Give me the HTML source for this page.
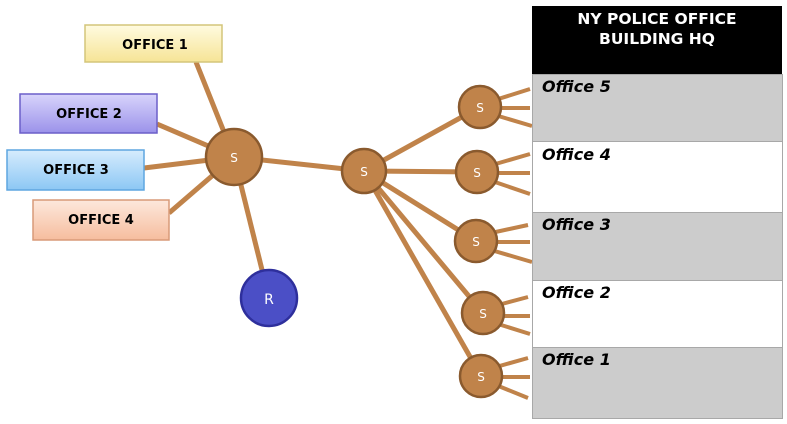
<!DOCTYPE html>
<html><head><style>body{margin:0;background:#fff}svg{display:block}</style></head><body>
<svg width="787" height="424" viewBox="0 0 787 424" xmlns="http://www.w3.org/2000/svg" font-family="DejaVu Sans, sans-serif">
<defs>
<linearGradient id="g1" x1="0" y1="0" x2="0" y2="1"><stop offset="0" stop-color="#fffbe0"/><stop offset="1" stop-color="#f6e496"/></linearGradient>
<linearGradient id="g2" x1="0" y1="0" x2="0" y2="1"><stop offset="0" stop-color="#d8d4fb"/><stop offset="1" stop-color="#9b92ea"/></linearGradient>
<linearGradient id="g3" x1="0" y1="0" x2="0" y2="1"><stop offset="0" stop-color="#d6ecfd"/><stop offset="1" stop-color="#8cc7f4"/></linearGradient>
<linearGradient id="g4" x1="0" y1="0" x2="0" y2="1"><stop offset="0" stop-color="#fde8dc"/><stop offset="1" stop-color="#f6bd9e"/></linearGradient>
</defs>
<g stroke="#c0834a" stroke-width="5" stroke-linecap="butt">
<line x1="196" y1="62" x2="234" y2="157"/>
<line x1="157" y1="124" x2="234" y2="157"/>
<line x1="144" y1="168" x2="234" y2="157"/>
<line x1="169" y1="213" x2="234" y2="157"/>
<line x1="234" y1="157" x2="269" y2="298"/>
<line x1="234" y1="157" x2="364" y2="171"/>
<line x1="364" y1="171" x2="480" y2="107"/>
<line x1="364" y1="171" x2="477" y2="172"/>
<line x1="364" y1="171" x2="476" y2="241"/>
<line x1="364" y1="171" x2="483" y2="313"/>
<line x1="364" y1="171" x2="481" y2="376"/>
</g>
<g stroke="#c0834a" stroke-width="4">
<line x1="495" y1="100" x2="530" y2="89"/><line x1="495" y1="108" x2="530" y2="108"/><line x1="495" y1="115" x2="532" y2="126"/>
<line x1="492" y1="165" x2="530" y2="154"/><line x1="492" y1="173" x2="530" y2="173"/><line x1="492" y1="181" x2="530" y2="194"/>
<line x1="491" y1="233" x2="528" y2="225"/><line x1="491" y1="242" x2="530" y2="242"/><line x1="491" y1="250" x2="532" y2="262"/>
<line x1="498" y1="305" x2="528" y2="297"/><line x1="498" y1="316" x2="530" y2="316"/><line x1="498" y1="324" x2="530" y2="334"/>
<line x1="496" y1="367" x2="528" y2="358"/><line x1="496" y1="377" x2="530" y2="377"/><line x1="496" y1="385" x2="528" y2="398"/>
</g>
<g stroke-width="1.5" font-weight="bold" font-size="13" text-anchor="middle" fill="#000">
<rect x="85" y="25" width="137" height="37" fill="url(#g1)" stroke="#d4c57a"/><text x="155" y="49" stroke="none">OFFICE  1</text>
<rect x="20" y="94" width="137" height="39" fill="url(#g2)" stroke="#6b5fc9"/><text x="89" y="118" stroke="none">OFFICE  2</text>
<rect x="7" y="150" width="137" height="40" fill="url(#g3)" stroke="#5ea6e0"/><text x="76" y="174" stroke="none">OFFICE  3</text>
<rect x="33" y="200" width="136" height="40" fill="url(#g4)" stroke="#d89a78"/><text x="101" y="224" stroke="none">OFFICE  4</text>
</g>
<g fill="#c0834a" stroke="#8a5a2e" stroke-width="2.5">
<circle cx="234" cy="157" r="28"/>
<circle cx="364" cy="171" r="22"/>
<circle cx="480" cy="107" r="21"/>
<circle cx="477" cy="172" r="21"/>
<circle cx="476" cy="241" r="21"/>
<circle cx="483" cy="313" r="21"/>
<circle cx="481" cy="376" r="21"/>
</g>
<circle cx="269" cy="298" r="28" fill="#4b4fc6" stroke="#2e2f9c" stroke-width="2.5"/>
<g fill="#fff" font-size="12" text-anchor="middle">
<text x="234" y="162">S</text><text x="364" y="176">S</text><text x="480" y="112">S</text><text x="477" y="177">S</text><text x="476" y="246">S</text><text x="483" y="318">S</text><text x="481" y="381">S</text>
<text x="269" y="304" font-size="14">R</text>
</g>
<rect x="532" y="6" width="250" height="68" fill="#000"/>
<text x="657" y="24" fill="#fff" font-size="15.5" font-weight="bold" text-anchor="middle">NY POLICE OFFICE</text>
<text x="657" y="44" fill="#fff" font-size="15.5" font-weight="bold" text-anchor="middle">BUILDING HQ</text>
<g stroke="#a8a8a8" stroke-width="1">
<rect x="532.5" y="74.5" width="250" height="67" fill="#cccccc"/>
<rect x="532.5" y="141.5" width="250" height="71" fill="#fff"/>
<rect x="532.5" y="212.5" width="250" height="68" fill="#cccccc"/>
<rect x="532.5" y="280.5" width="250" height="67" fill="#fff"/>
<rect x="532.5" y="347.5" width="250" height="71" fill="#cccccc"/>
</g>
<g font-size="16" font-weight="bold" font-style="italic" fill="#000">
<text x="542" y="92">Office 5</text>
<text x="542" y="160">Office 4</text>
<text x="542" y="230">Office 3</text>
<text x="542" y="298">Office 2</text>
<text x="542" y="365">Office 1</text>
</g>
</svg>
</body></html>
